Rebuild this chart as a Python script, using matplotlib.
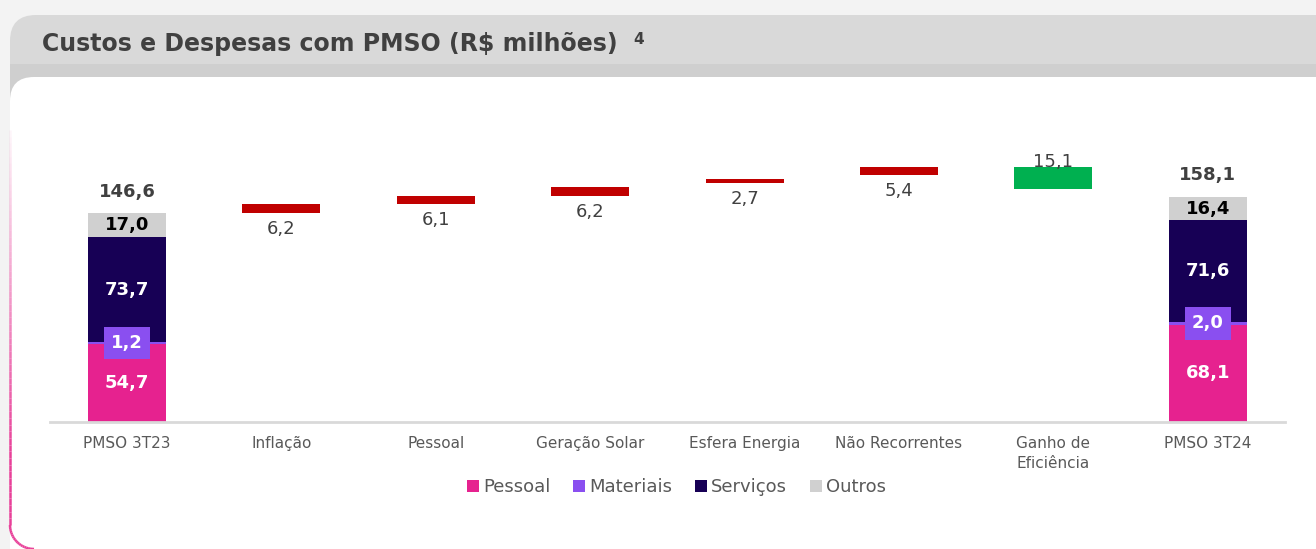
import matplotlib
matplotlib.use('Agg')
import matplotlib.pyplot as plt
import numpy as np
from matplotlib.patches import FancyBboxPatch, Rectangle, Patch
from matplotlib.collections import LineCollection

# --- data (R$ milhões) ---
categories = ['PMSO 3T23', 'Inflação', 'Pessoal', 'Geração Solar', 'Esfera Energia',
              'Não Recorrentes', 'Ganho de\nEficiência', 'PMSO 3T24']
pessoal = [54.7, 68.1]
materiais = [1.2, 2.0]
servicos = [73.7, 71.6]
outros = [17.0, 16.4]
totals = [146.6, 158.1]

step_values = [6.2, 6.1, 6.2, 2.7, 5.4, -15.1]
# invisible base of each step bar, as drawn on the slide
step_bottoms = [146.6, 152.8, 158.9, 167.9, 173.5, 164.0]

legend_labels = ['Pessoal', 'Materiais', 'Serviços', 'Outros']

PINK = '#E6228F'
PURPLE = '#8A4FF0'
NAVY = '#170055'
GREY = '#D0D0D0'
RED = '#C00000'
GREEN = '#00B050'
TXT = '#404040'


def fmt(v):
    return f'{abs(v):.1f}'.replace('.', ',')


plt.rcParams['font.family'] = ['DejaVu Sans']

W, H = 1316, 549
fig = plt.figure(figsize=(W / 100, H / 100), dpi=100)
fig.patch.set_facecolor('#f3f3f3')

# background card drawn in pixel coordinates
bg = fig.add_axes([0, 0, 1, 1])
bg.set_xlim(0, W)
bg.set_ylim(H, 0)
bg.axis('off')

bg.add_patch(FancyBboxPatch((10, 15), W + 40, 100, boxstyle='round,pad=0,rounding_size=26',
                            fc='#d9d9d9', ec='none'))
bg.add_patch(Rectangle((10, 64), W, 40, fc='#cfcfcf', ec='none'))
bg.add_patch(FancyBboxPatch((10, 77), W + 40, H, boxstyle='round,pad=0,rounding_size=24',
                            fc='white', ec='none'))

# pink border on the left edge, fading out towards the top
r = 24
t = np.linspace(0, np.pi / 2, 20)
xs = np.concatenate([np.full(60, 10.0), 10 + r - r * np.cos(t)])
ys = np.concatenate([np.linspace(130, H - r, 60), H - r + r * np.sin(t)])
pts = np.column_stack([xs, ys])
segs = np.stack([pts[:-1], pts[1:]], axis=1)
alphas = np.clip(np.linspace(0.05, 1.6, len(segs)), 0, 1)
seg_colors = [(0.91, 0.25, 0.60, a) for a in alphas]
bg.add_collection(LineCollection(segs, colors=seg_colors, linewidths=1.8))

bg.text(42, 44, 'Custos e Despesas com PMSO (R$ milhões)', fontsize=17,
        fontweight='bold', color=TXT, va='center')
bg.text(633, 39, '4', fontsize=11, fontweight='bold', color=TXT, va='center')

# --- chart ---
base_px = 421.7
px_per_unit = 1.4216
ax = fig.add_axes([49.8 / W, (H - base_px) / H, (1285 - 49.8) / W, (base_px - 100) / H])
ax.set_facecolor('none')
ax.set_xlim(-0.5, len(categories) - 0.5)
ax.set_ylim(0, (base_px - 100) / px_per_unit)

bw = 0.505
ends = [0, len(categories) - 1]

b1 = pessoal
b2 = [p + m for p, m in zip(pessoal, materiais)]
b3 = [b + s for b, s in zip(b2, servicos)]
ax.bar(ends, pessoal, bw, color=PINK)
ax.bar(ends, materiais, bw, bottom=b1, color=PURPLE)
ax.bar(ends, servicos, bw, bottom=b2, color=NAVY)
ax.bar(ends, outros, bw, bottom=b3, color=GREY)

for i, x in enumerate(ends):
    ax.text(x, pessoal[i] / 2, fmt(pessoal[i]), ha='center', va='center',
            fontsize=13, fontweight='bold', color='white')
    ax.text(x, b1[i] + materiais[i] / 2, fmt(materiais[i]), ha='center', va='center',
            fontsize=13, fontweight='bold', color='white',
            bbox=dict(boxstyle='square,pad=0.4', fc=PURPLE, ec='none'))
    ax.text(x, b2[i] + servicos[i] / 2, fmt(servicos[i]), ha='center', va='center',
            fontsize=13, fontweight='bold', color='white')
    ax.text(x, b3[i] + outros[i] / 2, fmt(outros[i]), ha='center', va='center',
            fontsize=13, fontweight='bold', color='black')
    ax.annotate(fmt(totals[i]), (x, totals[i]), xytext=(0, 9), textcoords='offset points',
                ha='center', va='bottom', fontsize=13, fontweight='bold', color=TXT)

# waterfall steps
steps_x = list(range(1, len(step_values) + 1))
heights = [abs(v) for v in step_values]
colors = [RED if v > 0 else GREEN for v in step_values]
ax.bar(steps_x, heights, bw, bottom=step_bottoms, color=colors)

for x, v, b in zip(steps_x, step_values, step_bottoms):
    if v > 0:
        ax.annotate(fmt(v), (x, b), xytext=(0, -5), textcoords='offset points',
                    ha='center', va='top', fontsize=13, color=TXT)
    else:
        ax.annotate(fmt(v), (x, b + abs(v)), xytext=(0, 0), textcoords='offset points',
                    ha='center', va='baseline', fontsize=13, color=TXT)

ax.set_xticks(range(len(categories)))
ax.set_xticklabels(categories)
ax.tick_params(axis='x', length=0, pad=10, labelsize=11, labelcolor='#595959')
for lbl in ax.get_xticklabels():
    lbl.set_linespacing(1.45)
ax.set_yticks([])
for side in ['top', 'left', 'right']:
    ax.spines[side].set_visible(False)
ax.spines['bottom'].set_color('#d9d9d9')
ax.spines['bottom'].set_linewidth(2)

handles = [Patch(fc=c, ec='none', label=l) for c, l in zip([PINK, PURPLE, NAVY, GREY], legend_labels)]
fig.legend(handles=handles, loc='center', bbox_to_anchor=(676.5 / W, (H - 487) / H), ncol=4,
           frameon=False, fontsize=13, handlelength=0.65, handleheight=0.65,
           handletextpad=0.25, columnspacing=1.25, labelcolor='#595959')

plt.savefig('out.png', dpi=100, facecolor=fig.get_facecolor())
